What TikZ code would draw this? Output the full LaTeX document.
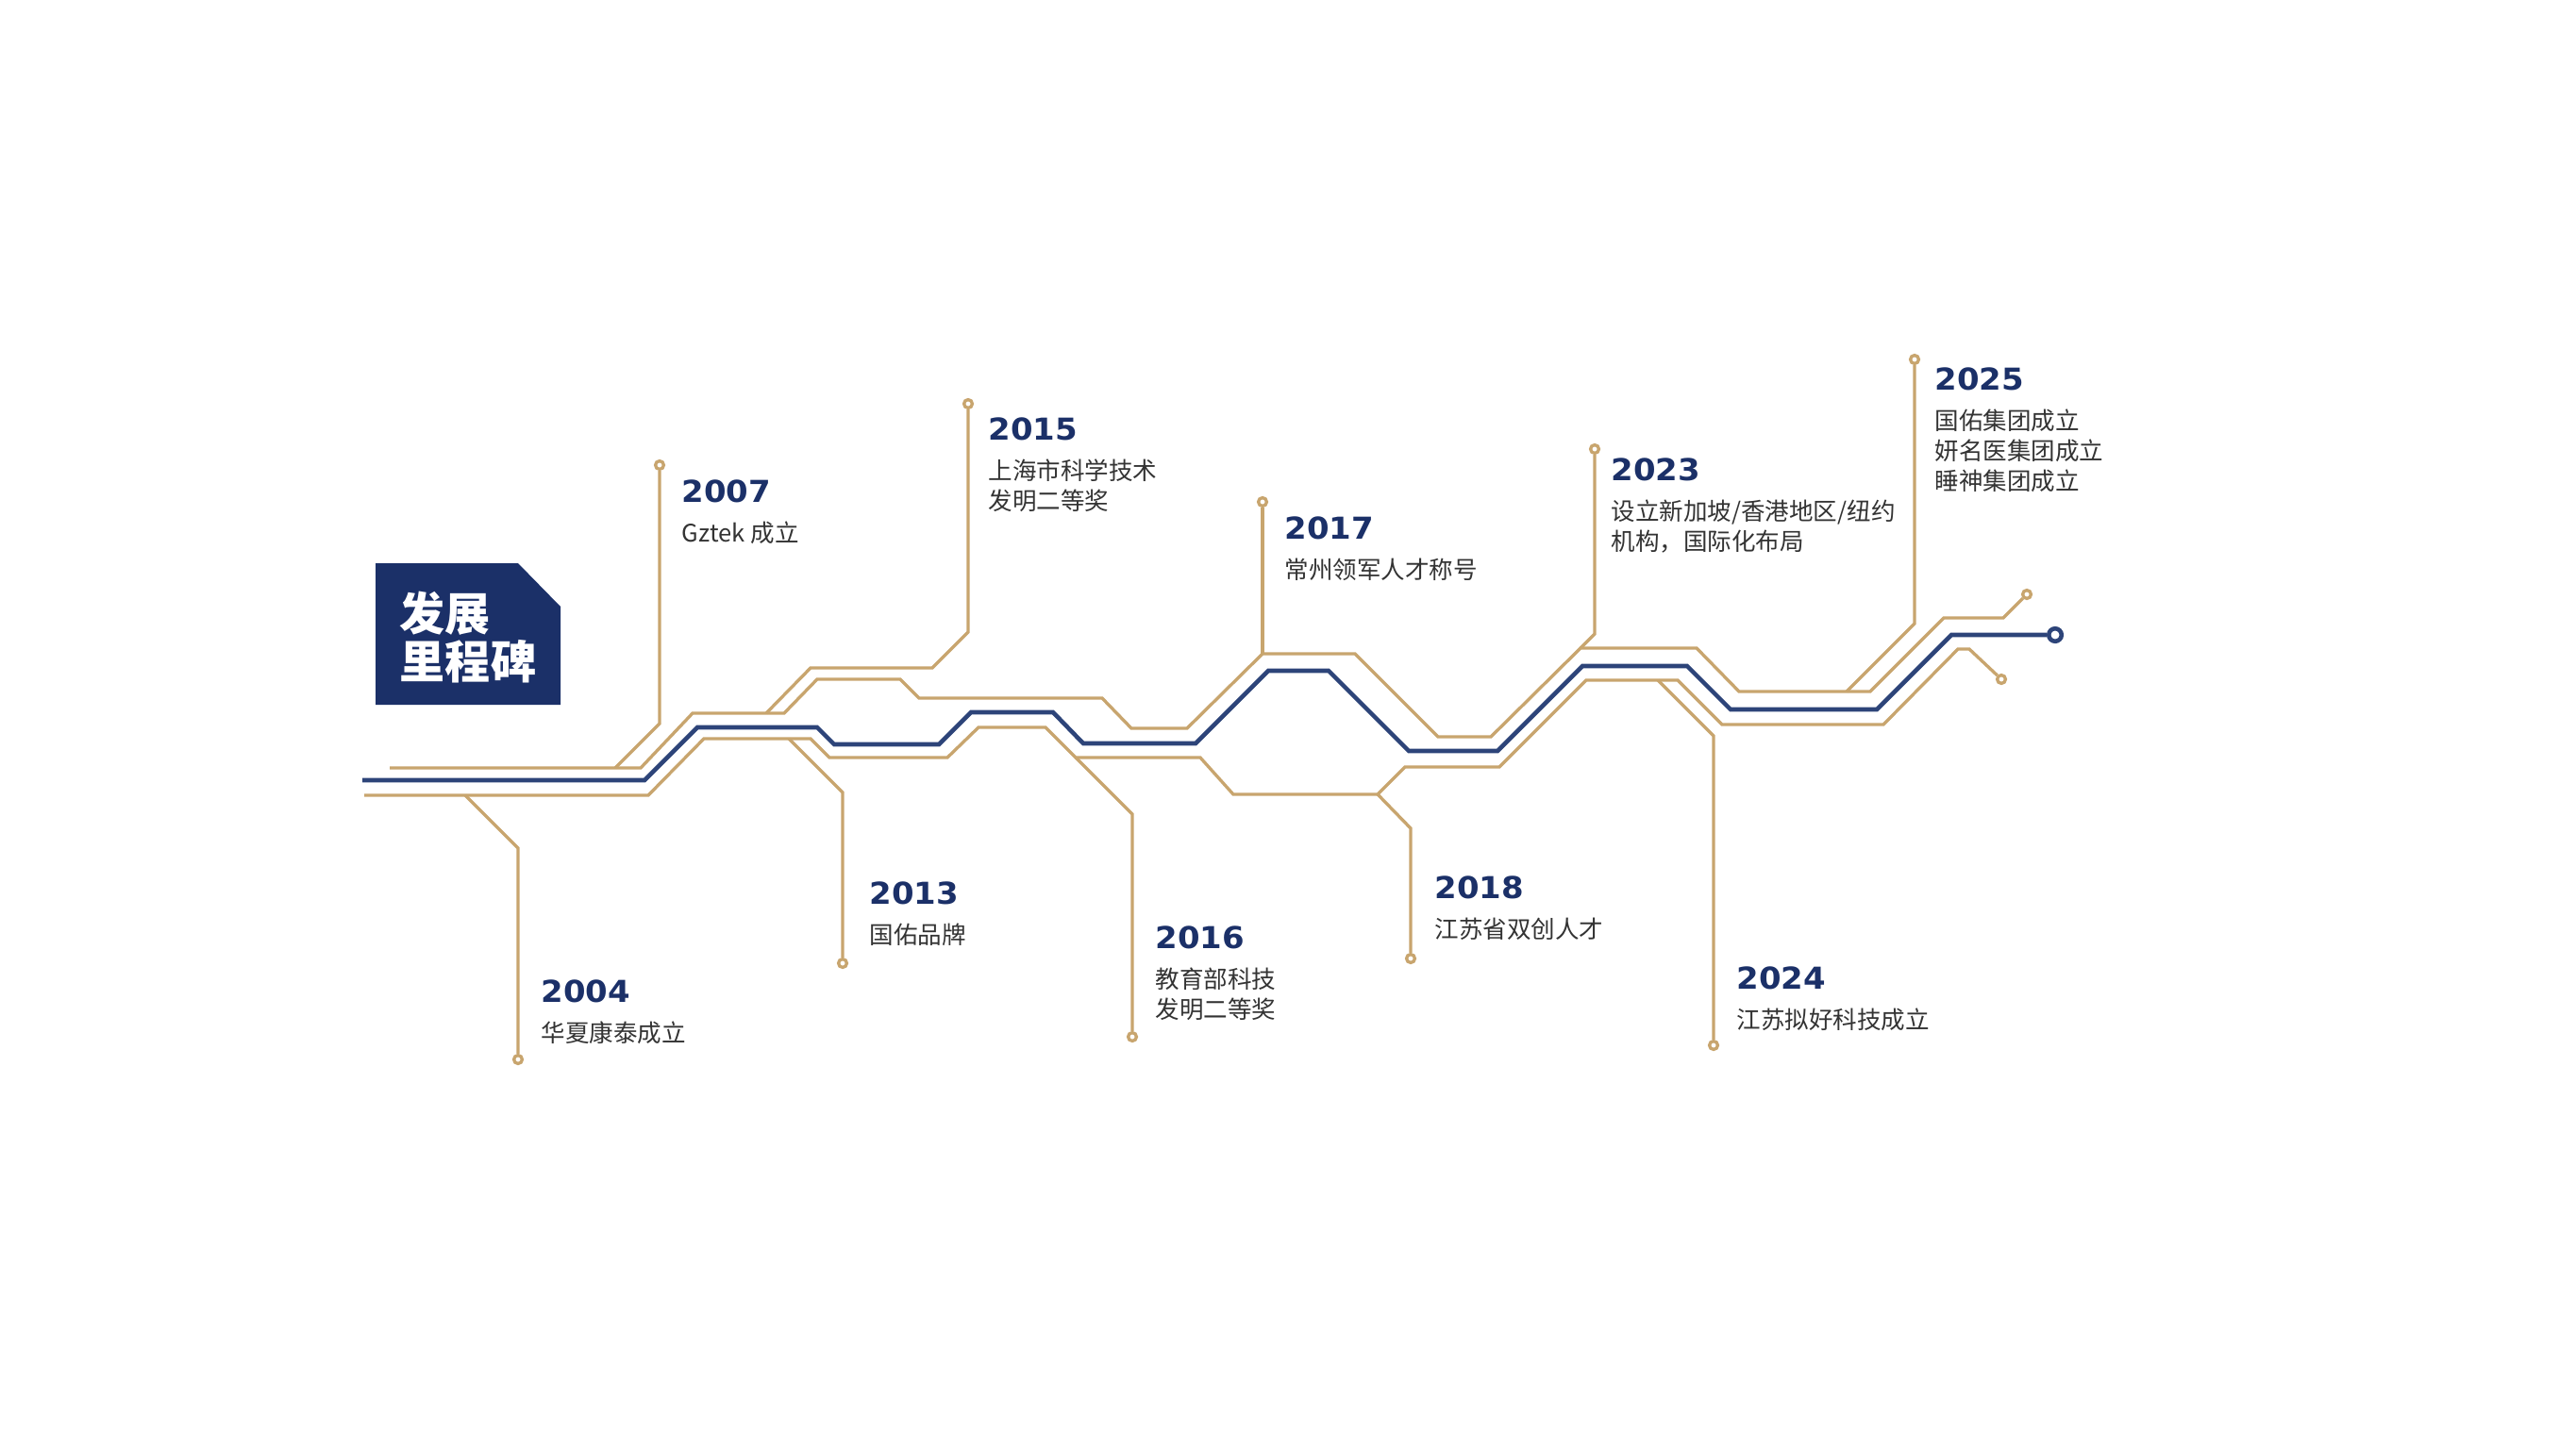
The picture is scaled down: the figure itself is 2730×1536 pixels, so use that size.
\documentclass[tikz,border=0pt]{standalone}
\usepackage{fontspec}
\usepackage{xcolor}
\usepackage{tikz}
\usetikzlibrary{positioning}

\newfontfamily\cjk{Noto Sans CJK SC}
\newfontfamily\yearfont{DejaVu Sans}[FakeStretch=1.06]
\definecolor{gold}{HTML}{C8A56E}
\definecolor{navy}{HTML}{1B3068}
\definecolor{trackblue}{HTML}{2D4479}
\definecolor{txtgray}{HTML}{333333}

\begin{document}
\begin{tikzpicture}[x=0.01cm, y=-0.01cm, line join=miter,
    gtrack/.style={draw=gold, line width=0.95pt},
    btrack/.style={draw=trackblue, line width=1.3pt},
    pin/.style={circle, draw=gold, fill=white, line width=0.95pt, inner sep=0pt, minimum size=0.088cm},
    year/.style={anchor=base west, inner sep=0pt, text=navy, font=\yearfont\bfseries\fontsize{9.1pt}{9.1pt}\selectfont},
    desc/.style={below right=0.19cm and 0cm of #1, inner sep=0pt, align=left, text=txtgray, font=\cjk\fontsize{7.26pt}{9.1pt}\selectfont}]

      \useasboundingbox (0,0) rectangle (2730,1536);

      \fill[navy] (398,597) -- (549,597) -- (594,643) -- (594,747) -- (398,747) -- cycle;
      \node[text=white, align=left, font=\cjk\bfseries\fontsize{13.66pt}{14.5pt}\selectfont] (title) at (496,676) {发展\\里程碑};

      \node[pin] (d04) at (549,1123) {};
      \node[pin] (d07) at (699,493) {};
      \node[pin] (d13) at (893,1021) {};
      \node[pin] (d15) at (1026,428) {};
      \node[pin] (d16) at (1200,1099) {};
      \node[pin] (d17) at (1338,532) {};
      \node[pin] (d18) at (1495,1016) {};
      \node[pin] (d23) at (1690,476) {};
      \node[pin] (d24) at (1816,1108) {};
      \node[pin] (d25) at (2029,381) {};
      \node[pin] (g1end) at (2148,630) {};
      \node[pin] (g2end) at (2121,720) {};
      \node[circle, draw=trackblue, fill=white, line width=1.3pt, inner sep=0pt, minimum size=0.135cm] (endc) at (2178,673) {};

      \draw[gtrack] (413,814) -- (679,814) -- (734,756) -- (831,756) -- (866,720) -- (954,720) -- (974,740)
        -- (1168,740) -- (1199,772) -- (1258,772) -- (1338,693) -- (1436,693) -- (1524,781) -- (1580,781)
        -- (1675,687) -- (1798,687) -- (1843,733) -- (1982,733) -- (2060,655) -- (2123,655) -- (g1end);
      \draw[btrack] (384,827) -- (683,827) -- (739,771) -- (866,771) -- (884,789) -- (995,789) -- (1029,755)
        -- (1116,755) -- (1148,788) -- (1267,788) -- (1344,711) -- (1408,711) -- (1493,796) -- (1587,796)
        -- (1677,706) -- (1788,706) -- (1834,752) -- (1989,752) -- (2068,673) -- (endc);
      \draw[gtrack] (386,843) -- (687,843) -- (746,783) -- (859,783) -- (879,803) -- (1004,803) -- (1037,771)
        -- (1108,771) -- (1140,803) -- (1272,803) -- (1307,842) -- (1460,842) -- (1489,813) -- (1589,813)
        -- (1681,721) -- (1778,721) -- (1825,768) -- (1996,768) -- (2075,688) -- (2087,688) -- (g2end);

      \draw[gtrack] (493,843) -- (549,899) -- (d04);
      \draw[gtrack] (652,814) -- (699,767) -- (d07);
      \draw[gtrack] (836,783) -- (893,840) -- (d13);
      \draw[gtrack] (812,756) -- (859,708) -- (988,708) -- (1026,670) -- (d15);
      \draw[gtrack] (1140,803) -- (1200,863) -- (d16);
      \draw[gtrack] (1338,693) -- (d17);
      \draw[gtrack] (1460,842) -- (1495,878) -- (d18);
      \draw[gtrack] (1675,687) -- (1690,672) -- (d23);
      \draw[gtrack] (1757,721) -- (1816,780) -- (d24);
      \draw[gtrack] (1957,733) -- (2029,661) -- (d25);

      \node[year] (y04) at (573,1062) {2004};
      \node[desc=y04.south west] (t04) {华夏康泰成立};
      \node[year] (y07) at (722,532) {2007};
      \node[desc=y07.south west] (t07) {Gztek 成立};
      \node[year] (y13) at (921,958) {2013};
      \node[desc=y13.south west] (t13) {国佑品牌};
      \node[year] (y15) at (1047,466) {2015};
      \node[desc=y15.south west] (t15) {上海市科学技术\\发明二等奖};
      \node[year] (y16) at (1224,1005) {2016};
      \node[desc=y16.south west] (t16) {教育部科技\\发明二等奖};
      \node[year] (y17) at (1361,571) {2017};
      \node[desc=y17.south west] (t17) {常州领军人才称号};
      \node[year] (y18) at (1520,952) {2018};
      \node[desc=y18.south west] (t18) {江苏省双创人才};
      \node[year] (y23) at (1707,509) {2023};
      \node[desc=y23.south west] (t23) {设立新加坡/香港地区/纽约\\机构，国际化布局};
      \node[year] (y24) at (1840,1048) {2024};
      \node[desc=y24.south west] (t24) {江苏拟好科技成立};
      \node[year] (y25) at (2050,413) {2025};
      \node[desc=y25.south west] (t25) {国佑集团成立\\妍名医集团成立\\睡神集团成立};
    \end{tikzpicture}
\end{document}
